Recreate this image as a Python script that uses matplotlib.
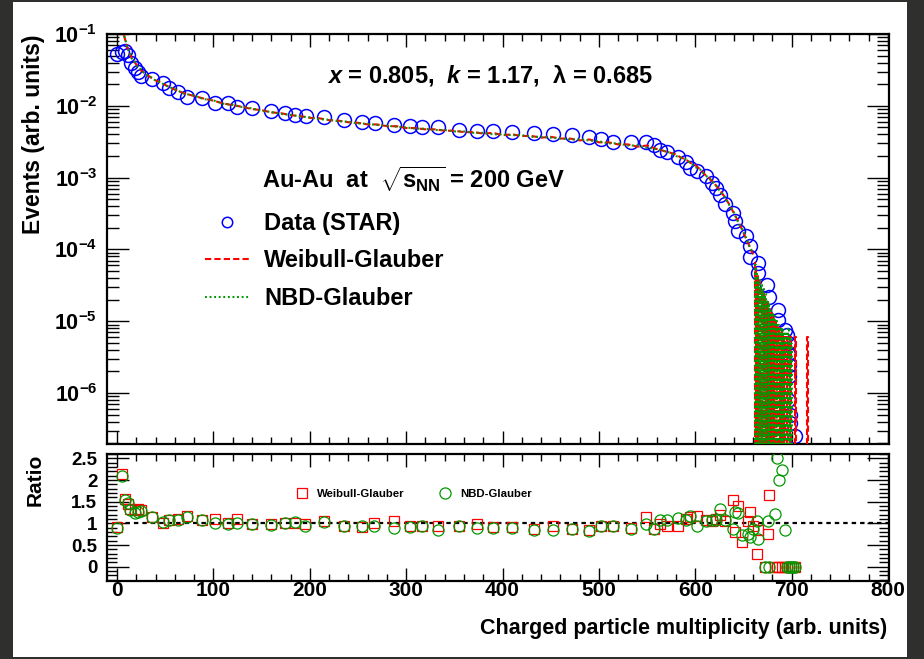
import math
import matplotlib
matplotlib.use('Agg')
import matplotlib.pyplot as plt
from matplotlib.patches import Rectangle
from matplotlib.ticker import MultipleLocator, LogLocator, NullFormatter, FuncFormatter, FixedLocator

plt.rcParams['font.family'] = ['Liberation Sans', 'DejaVu Sans']
plt.rcParams['font.weight'] = 'bold'
plt.rcParams['mathtext.fontset'] = 'custom'
plt.rcParams['mathtext.rm'] = 'Liberation Sans:bold'
plt.rcParams['mathtext.bf'] = 'Liberation Sans:bold'
plt.rcParams['mathtext.it'] = 'Liberation Sans:italic:bold'
plt.rcParams['mathtext.default'] = 'regular'

# STAR data (multiplicity, events)
data_x = [0, 5, 8, 11, 14, 19, 22, 25, 36, 48, 54, 63, 73, 88, 102, 115, 124, 140, 160, 174,
          185, 196, 215, 235, 254, 268, 287, 304, 316, 333, 355, 374, 390, 410, 433, 452, 472, 490, 502, 515,
          533, 549, 557, 563, 571, 582, 590, 594, 602, 611, 617, 621, 626, 631, 639, 641, 644,
          653, 657, 657, 665, 665, 674, 677, 686, 686, 693, 695, 696, 696, 697, 697, 696, 698, 698, 703]
data_y = [0.053, 0.057, 0.058, 0.051, 0.040, 0.034, 0.030, 0.026, 0.0234, 0.0206,
          0.0178, 0.0158, 0.0134, 0.0127, 0.0110, 0.0108, 0.0096, 0.0092, 0.0085, 0.0079,
          0.0075, 0.0072, 0.0069, 0.0063, 0.0060, 0.0057, 0.0054, 0.0052, 0.0051, 0.0051,
          0.0046, 0.0045, 0.0044, 0.0043, 0.0042, 0.0040, 0.0039, 0.0037, 0.0034, 0.0031,
          0.0031, 0.0031, 0.00285, 0.0024, 0.0023, 0.00195, 0.00166, 0.00134, 0.00122, 0.00105,
          8.3e-4, 7.2e-4, 5.7e-4, 4.3e-4, 3.2e-4, 2.45e-4, 1.78e-4,
          1.52e-4, 1.1e-4, 7.9e-5, 6.4e-5, 4.7e-5, 3.2e-5, 2.2e-5, 1.44e-5, 1.04e-5, 7.6e-6,
          6.5e-6, 4.9e-6, 3.55e-6, 2.45e-6, 1.7e-6, 8e-7, 4.9e-7, 3.8e-7, 2.5e-7]

# Glauber model curves
model_x = [6, 7, 9, 11, 13, 15, 18, 21, 25, 30, 35, 40, 45, 50,
           60, 70, 80, 90, 100, 110, 120, 130, 140, 150, 160, 170, 180, 190, 200, 210, 220, 230, 240, 250,
           260, 270, 280, 290, 300, 310, 320, 330, 340, 350, 360, 370, 380, 390, 400, 410, 420, 430, 440,
           450, 460, 470, 480, 490, 500, 510, 520, 530, 540, 550, 560,
           565, 570, 575, 580, 585, 590, 595, 600, 605, 610, 615, 620, 625, 630, 635, 640, 645, 650, 655, 660]
weibull_y = [0.13, 0.098, 0.078, 0.064, 0.054, 0.047, 0.041, 0.036, 0.031, 0.0275, 0.0248, 0.0226, 0.0212, 0.0195,
             0.0168, 0.0149, 0.0137, 0.0126, 0.0118, 0.0108, 0.0102, 0.0097, 0.0090, 0.0087, 0.0081, 0.0079,
             0.0074, 0.0072, 0.0068, 0.0067, 0.0063, 0.0062, 0.0059, 0.0058, 0.0055, 0.0055, 0.0052, 0.0052,
             0.0049, 0.0049, 0.0047, 0.0047, 0.0045, 0.0045, 0.0043, 0.0043, 0.0041, 0.0042, 0.0039, 0.0040,
             0.0038, 0.0038, 0.0036, 0.0037, 0.0035, 0.0035, 0.0033, 0.0034, 0.0031, 0.0031, 0.0029, 0.0029,
             0.0027, 0.0028, 0.0025,
             0.0024, 0.0023, 0.0022, 0.0021, 0.0019, 0.0018, 0.0016, 0.0015, 0.0013, 0.0011, 0.00097, 0.00082,
             0.00068, 0.00055, 0.00043, 0.00032, 0.00024, 0.00017, 0.00012, 8.5e-5]
nbd_y = [0.125, 0.10, 0.080, 0.062, 0.055, 0.046, 0.042, 0.035, 0.032, 0.027, 0.0252, 0.0224, 0.0214, 0.0193,
         0.0170, 0.0147, 0.0139, 0.0124, 0.0119, 0.0107, 0.0103, 0.0096, 0.0092, 0.0085, 0.0082, 0.0077,
         0.0075, 0.0071, 0.0069, 0.0065, 0.0064, 0.0061, 0.0060, 0.0057, 0.0056, 0.0054, 0.0053, 0.0051,
         0.0050, 0.0048, 0.0048, 0.0046, 0.0046, 0.0044, 0.0044, 0.0042, 0.0042, 0.0040, 0.0040, 0.0039,
         0.0039, 0.0037, 0.0037, 0.0036, 0.0035, 0.0034, 0.0034, 0.0033, 0.0032, 0.0030, 0.0030, 0.0028,
         0.0028, 0.0026, 0.0025,
         0.0024, 0.0023, 0.0022, 0.0020, 0.0019, 0.0018, 0.0016, 0.0014, 0.0013, 0.0011, 0.00095, 0.00083,
         0.00066, 0.00056, 0.00042, 0.00033, 0.00023, 0.00018, 0.00012, 8.8e-5]

# high-multiplicity tail, unit bins (empty bins = 0)
weibull_tail_x = list(range(661, 719))
weibull_tail = [6.5e-5, 0, 5e-5, 0, 4.2e-5, 0, 3.5e-5, 0, 2.9e-5, 0, 2.5e-5, 0, 2.1e-5, 0, 1.8e-5, 0,
                1.5e-5, 0, 1.3e-5, 0, 1.1e-5, 0, 1e-5, 0, 9e-6, 0, 8e-6, 0, 7e-6, 0, 6e-6, 0, 6e-6, 0,
                0, 6e-6, 0, 0, 6e-6, 0, 0, 0, 0, 6e-6,
                0, 0, 0, 0, 0, 0, 0, 0, 0, 0, 0, 6e-6, 0, 0]
nbd_tail_x = [x + 0.5 for x in range(661, 701)]
nbd_tail = [0, 6e-5, 0, 4.5e-5, 0, 3.8e-5, 0, 3.2e-5, 0, 2.8e-5, 0, 2.4e-5, 0, 2e-5, 0, 1.8e-5,
            0, 1.5e-5, 0, 1.3e-5, 0, 1.2e-5, 0, 1e-5, 0, 9e-6, 0, 8e-6, 0, 8e-6, 0, 7e-6,
            0, 7e-6, 0, 8e-6, 0, 6e-6, 0, 5e-6]

# ratio panel
ratio_x = [0, 5, 8, 11, 13, 19, 22, 25, 36, 48, 54, 63, 73, 88, 102, 115, 124, 140, 160, 174,
           185, 195, 215, 235, 254, 267, 287, 304, 316, 333, 355, 374, 390, 410, 433, 452, 472, 490, 502, 515,
           533, 549, 557, 563, 571, 582, 590, 594, 602, 611, 617, 621, 626, 631, 639, 641, 644,
           648, 655, 657, 660, 664, 665, 672, 675, 677, 683, 685, 687, 690, 693, 695, 697, 699, 701, 703]
ratio_weibull = [0.92, 2.15, 1.57, 1.45, 1.33, 1.30, 1.33, 1.30, 1.15, 1.00,
                 1.07, 1.10, 1.17, 1.08, 1.10, 1.00, 1.10, 0.98, 0.98, 1.00,
                 1.00, 0.98, 1.05, 0.93, 0.92, 1.00, 1.05, 0.95, 0.93, 0.95,
                 0.93, 0.99, 0.92, 0.92, 0.87, 0.95, 0.88, 0.84, 0.95, 0.93,
                 0.89, 1.15, 0.87, 0.99, 0.95, 0.95, 1.10, 1.15, 1.18, 1.08,
                 1.05, 1.11, 1.20, 1.05, 1.53, 0.80, 1.41,
                 0.57, 1.05, 1.26, 0.95, 0.29, 0.85, 0.0, 0.75, 1.66, 0.0, 0.0, 0.0, 0.0, 0.0,
                 0.0, 0.0, 0.0, 0.0, 0.0]
ratio_nbd = [0.89, 2.10, 1.53, 1.46, 1.30, 1.23, 1.27, 1.28, 1.15, 1.03,
             1.07, 1.08, 1.15, 1.07, 1.00, 0.98, 1.00, 0.98, 0.97, 1.00,
             1.04, 0.95, 1.03, 0.93, 0.95, 0.95, 0.89, 0.92, 0.93, 0.85,
             0.93, 0.90, 0.90, 0.90, 0.85, 0.84, 0.87, 0.82, 0.94, 0.94,
             0.88, 0.98, 0.88, 1.08, 1.08, 1.13, 1.08, 1.18, 0.95, 1.05,
             1.07, 1.08, 1.34, 1.08, 0.88, 1.26, 1.24,
             0.72, 0.76, 0.69, 0.88, 1.05, 0.65, 0.0, 1.05, 0.0, 1.21, 2.51, 2.01, 2.24, 0.85,
             0.0, 0.0, 0.0, 0.0, 0.0]
unity_x = [0, 800]

x_ticks = [0, 100, 200, 300, 400, 500, 600, 700, 800]
log_ticks = [1e-6, 1e-5, 1e-4, 1e-3, 1e-2, 1e-1]
ratio_ticks = [0, 0.5, 1, 1.5, 2, 2.5]
ratio_labels = ['0', '0.5', '1', '1.5', '2', '2.5']

RED = '#ff0000'
GREEN = '#009900'
BLUE = '#0000ff'
dash_w = (0, (3, 1.5))
dot_n = (0, (0.9, 1.3))

fig = plt.figure(figsize=(9.24, 6.59), dpi=100)
fig.patch.set_facecolor('#2f2f2d')
fig.add_artist(Rectangle((13 / 924, 2 / 659), 894 / 924, 655 / 659, transform=fig.transFigure,
                         facecolor='white', edgecolor='none', zorder=-10))

ax1 = fig.add_axes([107 / 924, 1 - 444 / 659, 782 / 924, 410 / 659])
ax2 = fig.add_axes([107 / 924, 1 - 581 / 659, 782 / 924, 127 / 659])

# ---- top panel ----
ax1.plot(data_x, data_y, 'o', mfc='none', mec=BLUE, ms=10, mew=1.1, zorder=2, label='Data (STAR)')
ax1.plot(model_x, weibull_y, color=RED, ls=dash_w, lw=1.5, zorder=3, label='Weibull-Glauber')
ax1.plot(weibull_tail_x, weibull_tail, color=RED, ls=dash_w, lw=1.5, drawstyle='steps-mid', zorder=3)
ax1.plot(model_x, nbd_y, color=GREEN, ls=dot_n, lw=1.5, zorder=4, label='NBD-Glauber')
ax1.plot(nbd_tail_x, nbd_tail, color=GREEN, ls=dot_n, lw=1.5, drawstyle='steps-mid', zorder=4)

ax1.set_yscale('log')
ax1.set_xlim(-10.4, 801)
ax1.set_ylim(1.95e-7, 0.1)
ax1.set_xticks(x_ticks)
ax1.xaxis.set_minor_locator(MultipleLocator(20))
ax1.yaxis.set_major_locator(FixedLocator(log_ticks))
ax1.yaxis.set_minor_locator(LogLocator(base=10, subs=range(2, 10), numticks=20))
ax1.yaxis.set_minor_formatter(NullFormatter())
ax1.yaxis.set_major_formatter(FuncFormatter(lambda v, p: r'$10^{%d}$' % round(math.log10(v))))
ax1.tick_params(which='both', direction='in', top=True, right=True, labelbottom=False, width=1)
ax1.tick_params(axis='y', which='major', length=16, labelsize=15.5, pad=7)
ax1.tick_params(axis='y', which='minor', length=8.5)
ax1.tick_params(axis='x', which='major', length=9.5)
ax1.tick_params(axis='x', which='minor', length=5)
for s in ax1.spines.values():
    s.set_linewidth(1.6)

ax1.text((490 - 107) / 782, 1 - (82 - 34) / 410, r'$\mathit{x}$ = 0.805,  $\mathit{k}$ = 1.17,  λ = 0.685',
         transform=ax1.transAxes, ha='center', va='baseline', fontsize=17, fontweight='bold')
ax1.text((262 - 107) / 782, 1 - (188 - 34) / 410, r'Au-Au  at  $\sqrt{s_{NN}}$ = 200 GeV',
         transform=ax1.transAxes, ha='left', va='baseline', fontsize=17, fontweight='bold')
ax1.legend(loc='upper left', bbox_to_anchor=((205 - 107) / 782, 1 - (212 - 34) / 410),
           frameon=False, fontsize=17, borderpad=0, borderaxespad=0, handlelength=1.9,
           handletextpad=0.6, labelspacing=0.61, numpoints=1, markerscale=0.75)

# ---- ratio panel ----
ax2.plot(unity_x, [1, 1], color='black', ls=(0, (2, 1.8)), lw=1.6, zorder=1)
ax2.plot(ratio_x, ratio_weibull, 's', mfc='none', mec=RED, ms=7, mew=0.9, zorder=2, label='Weibull-Glauber')
ax2.plot(ratio_x, ratio_nbd, 'o', mfc='none', mec=GREEN, ms=8, mew=0.9, zorder=3, label='NBD-Glauber')
ax2.set_xlim(-10.4, 801)
ax2.set_ylim(-0.33, 2.6)
ax2.set_xticks(x_ticks)
ax2.xaxis.set_minor_locator(MultipleLocator(20))
ax2.set_yticks(ratio_ticks)
ax2.set_yticklabels(ratio_labels)
ax2.yaxis.set_minor_locator(MultipleLocator(0.1))
ax2.tick_params(which='both', direction='in', top=True, right=True, width=1)
ax2.tick_params(axis='y', which='major', length=16, labelsize=13.5, pad=7)
ax2.tick_params(axis='y', which='minor', length=7)
ax2.tick_params(axis='x', which='major', length=9.5, labelsize=15, pad=0)
ax2.tick_params(axis='x', which='minor', length=5)
for s in ax2.spines.values():
    s.set_linewidth(1.6)
ax2.legend(loc='upper left', bbox_to_anchor=((296 - 107) / 782, 1 - (489 - 454) / 127), ncol=2,
           frameon=False, fontsize=8.2, borderpad=0, borderaxespad=0, handlelength=1.0,
           handletextpad=0.8, columnspacing=3.1, numpoints=1)

fig.text(887 / 924, 1 - 634 / 659, 'Charged particle multiplicity (arb. units)',
         ha='right', va='baseline', fontsize=15.5, fontweight='bold')
fig.text(34 / 924, 1 - 35 / 659, 'Events (arb. units)', rotation=90,
         ha='center', va='top', fontsize=16.5, fontweight='bold')
fig.text(35 / 924, 1 - 480 / 659, 'Ratio', rotation=90,
         ha='center', va='center', fontsize=15, fontweight='bold')

fig.savefig('out.png', dpi=100, facecolor=fig.get_facecolor())
